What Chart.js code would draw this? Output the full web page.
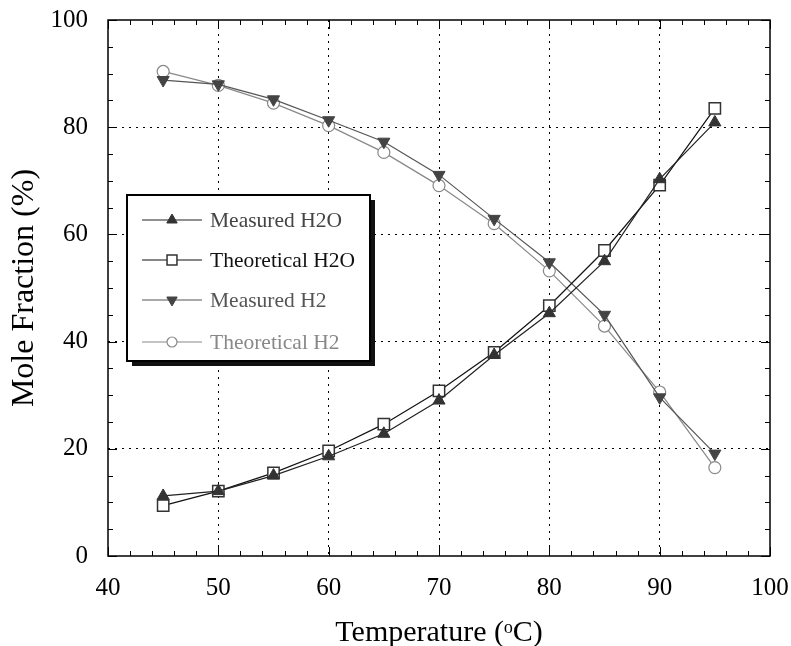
<!DOCTYPE html>
<html>
<head>
<meta charset="utf-8">
<script src="https://cdn.jsdelivr.net/npm/chart.js@4.4.1/dist/chart.umd.min.js"></script>
<style>
html,body{margin:0;padding:0;background:#fff;}
</style>
</head>
<body>
<canvas id="chart" width="791" height="646"></canvas>
<script>
// data
const temps=[45,50,55,60,65,70,75,80,85,90,95];
const measuredH2O=[11.2,12.1,15.0,18.6,22.8,29.0,37.5,45.3,55.0,70.3,80.9];
const theoreticalH2O=[9.4,12.1,15.5,19.6,24.6,30.8,38.0,46.7,57.0,69.2,83.5];
const measuredH2=[88.8,88.0,85.2,81.3,77.3,71.1,62.9,54.8,45.0,29.6,19.1];
const theoreticalH2=[90.4,87.8,84.5,80.3,75.3,69.1,62.0,53.2,42.9,30.6,16.5];
const xTicks=[40,50,60,70,80,90,100];
const yTicks=[0,20,40,60,80,100];

const serif='"Liberation Serif","Times New Roman",serif';

function pts(vals){
    return temps.map((t,i)=>({x:t,y:vals[i]}));
}

const datasets=[
    {label:'Measured H2O',data:pts(measuredH2O),borderColor:'#222',backgroundColor:'#333',
     pointStyle:'triangle',pointRadius:7,pointBorderColor:'#333',pointBackgroundColor:'#333',
     pointBorderWidth:1,rotation:0,textColor:'#444'},
    {label:'Theoretical H2O',data:pts(theoreticalH2O),borderColor:'#111',backgroundColor:'#fff',
     pointStyle:'rect',pointRadius:8,pointBorderColor:'#333',pointBackgroundColor:'#fff',
     pointBorderWidth:1.5,rotation:0,textColor:'#111'},
    {label:'Measured H2',data:pts(measuredH2),borderColor:'#555',backgroundColor:'#444',
     pointStyle:'triangle',pointRadius:7,pointBorderColor:'#444',pointBackgroundColor:'#444',
     pointBorderWidth:1,pointRotation:180,rotation:180,textColor:'#555'},
    {label:'Theoretical H2',data:pts(theoreticalH2),borderColor:'#888',backgroundColor:'#fff',
     pointStyle:'circle',pointRadius:6,pointBorderColor:'#888',pointBackgroundColor:'#fff',
     pointBorderWidth:1.2,rotation:0,textColor:'#888'}
];
datasets.forEach(d=>{d.borderWidth=1.2;d.tension=0;d.fill=false;});

// frame and inward ticks
const framePlugin={
    id:'frame',
    beforeDatasetsDraw(chart){
        const {ctx,chartArea:a,scales:{x,y}}=chart;
        ctx.save();
        ctx.strokeStyle='#000';
        ctx.lineWidth=1;
        ctx.beginPath();
        for(let v=40;v<=100;v+=2){
            const px=Math.round(x.getPixelForValue(v))+0.5;
            const len=(v%10===0)?9:5;
            ctx.moveTo(px,a.bottom);ctx.lineTo(px,a.bottom-len);
            ctx.moveTo(px,a.top);ctx.lineTo(px,a.top+len);
        }
        for(let v=0;v<=100;v+=5){
            const py=Math.round(y.getPixelForValue(v))+0.5;
            const len=(v%20===0)?9:5;
            ctx.moveTo(a.left,py);ctx.lineTo(a.left+len,py);
            ctx.moveTo(a.right,py);ctx.lineTo(a.right-len,py);
        }
        ctx.stroke();
        ctx.lineWidth=1.5;
        ctx.strokeRect(a.left,a.top,a.right-a.left,a.bottom-a.top);
        ctx.restore();
    }
};

// boxed legend with drop shadow
const legendPlugin={
    id:'boxLegend',
    afterDraw(chart){
        const ctx=chart.ctx;
        const bx=127,by=195,bw=243,bh=166;
        ctx.save();
        ctx.fillStyle='#111';
        ctx.fillRect(bx+5,by+5,bw,bh);
        ctx.fillStyle='#fff';
        ctx.fillRect(bx,by,bw,bh);
        ctx.lineWidth=2;
        ctx.strokeStyle='#000';
        ctx.strokeRect(bx,by,bw,bh);
        const rows=[220,260,300,342];
        chart.data.datasets.forEach((d,i)=>{
            const ry=rows[i];
            ctx.strokeStyle=d.borderColor;
            ctx.lineWidth=1.2;
            ctx.beginPath();
            ctx.moveTo(142,ry);ctx.lineTo(202,ry);
            ctx.stroke();
            ctx.fillStyle=d.pointBackgroundColor;
            ctx.strokeStyle=d.pointBorderColor;
            ctx.lineWidth=d.pointBorderWidth;
            Chart.helpers.drawPoint(ctx,{pointStyle:d.pointStyle,rotation:d.rotation,
                radius:d.pointRadius-1,borderWidth:d.pointBorderWidth},172,ry);
            ctx.fillStyle=d.textColor;
            ctx.font='21.5px '+serif;
            ctx.textBaseline='middle';
            ctx.textAlign='left';
            ctx.fillText(d.label,210,ry+1);
        });
        ctx.restore();
    }
};

function noPad(s){
    s.paddingTop=0;s.paddingBottom=0;s.paddingLeft=0;s.paddingRight=0;
}

new Chart(document.getElementById('chart'),{
    type:'line',
    data:{datasets:datasets},
    options:{
        responsive:false,
        animation:false,
        layout:{padding:{left:0,right:21,top:20,bottom:0}},
        plugins:{legend:{display:false},tooltip:{enabled:false}},
        elements:{line:{borderWidth:1.2}},
        scales:{
            x:{
                type:'linear',min:40,max:100,
                afterBuildTicks:s=>{s.ticks=xTicks.map(v=>({value:v}));},
                afterFit:s=>{s.height=90;noPad(s);},
                ticks:{color:'#000',padding:17,maxRotation:0,font:{family:serif,size:25}},
                grid:{drawTicks:false,lineWidth:1,
                    color:c=>(c.tick&&(c.tick.value===40||c.tick.value===100))?'rgba(0,0,0,0)':'#000'},
                border:{display:false,dash:[2,5]},
                title:{display:true,text:'Temperature (ᵒC)',color:'#000',
                    font:{family:serif,size:30},padding:{top:18,bottom:-5}}
            },
            y:{
                min:0,max:100,
                afterBuildTicks:s=>{s.ticks=yTicks.map(v=>({value:v}));},
                afterFit:s=>{s.width=108;noPad(s);},
                ticks:{color:'#000',padding:20,font:{family:serif,size:25}},
                grid:{drawTicks:false,lineWidth:1,
                    color:c=>(c.tick&&(c.tick.value===0||c.tick.value===100))?'rgba(0,0,0,0)':'#000'},
                border:{display:false,dash:[2,5]},
                title:{display:true,text:'Mole Fraction (%)',color:'#000',
                    font:{family:serif,size:32},padding:{top:5,bottom:0}}
            }
        }
    },
    plugins:[framePlugin,legendPlugin]
});
</script>
</body>
</html>
